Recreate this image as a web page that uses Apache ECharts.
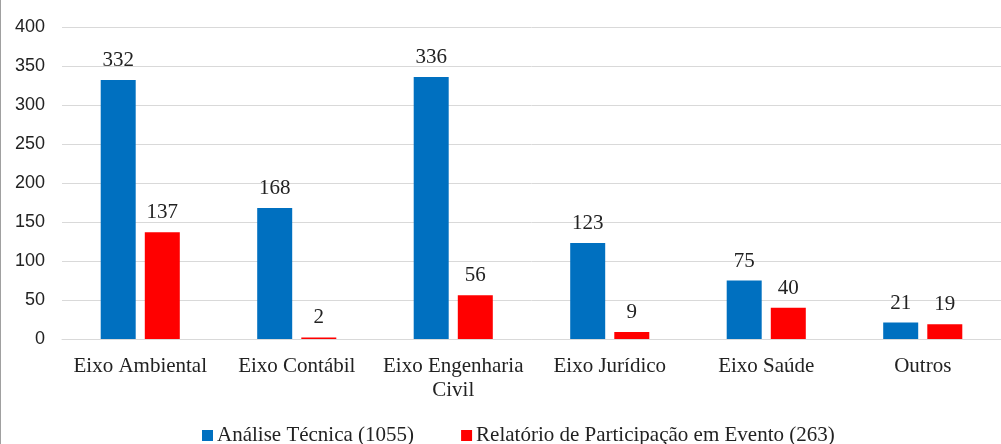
<!DOCTYPE html>
<html><head><meta charset="utf-8">
<script src="https://cdn.jsdelivr.net/npm/echarts@6/dist/echarts.min.js"></script>
<style>html,body{margin:0;padding:0;background:#fff}#c{width:1000px;height:444px;border-left:1px solid #a0a0a0}</style>
</head><body><div id="c"></div>
<script>
const categories = ['Eixo Ambiental','Eixo Contábil','Eixo Engenharia\nCivil','Eixo Jurídico','Eixo Saúde','Outros'];
const analiseTecnica = [332,168,336,123,75,21];
const relatorioEvento = [137,2,56,9,40,19];
const seriesNames = ['Análise Técnica (1055)','Relatório de Participação em Evento (263)'];
const yTicks = {min:0,max:400,interval:50};

const chart = echarts.init(document.getElementById('c'));
const serif = '"Liberation Serif","Times New Roman",serif';
const lbl = {show:true,position:'top',distance:9,fontFamily:serif,fontSize:21,color:'#222'};
chart.setOption({
  animation:false,
  grid:{left:61,right:-1,top:27,bottom:105},
  legend:{top:420,left:196,itemWidth:11,itemHeight:11,itemGap:47,icon:'rect',
    textStyle:{fontFamily:serif,fontSize:21,color:'#222',padding:[0,0,0,-1]}},
  xAxis:{type:'category',data:categories,axisTick:{show:false},
    axisLine:{lineStyle:{color:'#d9d9d9'}},
    axisLabel:{fontFamily:serif,fontSize:21,color:'#222',margin:15,lineHeight:24,interval:0}},
  yAxis:{type:'value',min:yTicks.min,max:yTicks.max,interval:yTicks.interval,
    axisLabel:{fontFamily:'"Liberation Sans",Arial,sans-serif',fontSize:18,color:'#222',margin:17},
    splitLine:{lineStyle:{color:'#d9d9d9',width:1}}},
  series:[
    {name:seriesNames[0],type:'bar',data:analiseTecnica,barWidth:35,barGap:'26%',itemStyle:{color:'#0070C0'},label:lbl},
    {name:seriesNames[1],type:'bar',data:relatorioEvento,barWidth:35,itemStyle:{color:'#FF0000'},label:lbl}
  ]
});
</script></body></html>
